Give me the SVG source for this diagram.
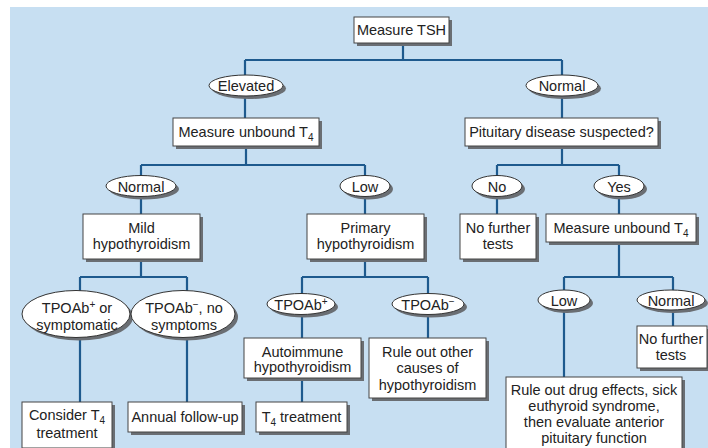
<svg xmlns="http://www.w3.org/2000/svg" width="708" height="448" viewBox="0 0 708 448">
<style>
.bg{fill:#c7dff2}
.conn{fill:none;stroke:#1e5a8e;stroke-width:2.2}
.box{fill:#fff;stroke:#444;stroke-width:1}
.sh{fill:#6a6e73}
.ell{fill:#fff;stroke:#333;stroke-width:1}
text{font-family:"Liberation Sans",Arial,sans-serif;font-size:14.5px;fill:#222;text-anchor:middle}
.s{font-size:10px}
</style>
<rect class="bg" x="10" y="7" width="698" height="441"/>
<g id="connectors">
<path class="conn" d="M403,43V60M245,60H562M245,60V118M562,60V118"/>
<path class="conn" d="M246,147V165M141,165H365M141,165V214M365,165V214"/>
<path class="conn" d="M562,147V165M497,165H619M497,165V214M619,165V214"/>
<path class="conn" d="M141,259V277M80,277H187M80,277V402M187,277V402"/>
<path class="conn" d="M365,259V277M302,277H428M302,277V402M428,277V338"/>
<path class="conn" d="M619,242V277M564,277H673M564,277V377M673,277V326"/>
</g>
<g id="n-tsh"><rect class="sh" x="357" y="20" width="95" height="26"/><rect class="box" x="354" y="17" width="95" height="26"/><text x="401.5" y="35">Measure TSH</text></g>
<g id="n-elevated"><ellipse class="sh" cx="249" cy="88.5" rx="37" ry="10.5"/><ellipse class="ell" cx="246" cy="85.5" rx="37" ry="10.5"/><text x="246" y="91">Elevated</text></g>
<g id="n-normal1"><ellipse class="sh" cx="565" cy="88.5" rx="36" ry="10.5"/><ellipse class="ell" cx="562" cy="85.5" rx="36" ry="10.5"/><text x="562" y="91">Normal</text></g>
<g id="n-mut4a"><rect class="sh" x="176" y="121" width="146" height="28"/><rect class="box" x="173" y="118" width="146" height="28"/><text x="246" y="137">Measure unbound T<tspan class="s" dy="4">4</tspan></text></g>
<g id="n-pit"><rect class="sh" x="468" y="121" width="193" height="28"/><rect class="box" x="465" y="118" width="193" height="28"/><text x="561.5" y="137">Pituitary disease suspected?</text></g>
<g id="n-normal2"><ellipse class="sh" cx="144" cy="189" rx="35" ry="10.5"/><ellipse class="ell" cx="141" cy="186" rx="35" ry="10.5"/><text x="141" y="191.5">Normal</text></g>
<g id="n-low1"><ellipse class="sh" cx="368" cy="189" rx="25" ry="10.5"/><ellipse class="ell" cx="365" cy="186" rx="25" ry="10.5"/><text x="365" y="191.5">Low</text></g>
<g id="n-no"><ellipse class="sh" cx="500" cy="189" rx="25" ry="10.5"/><ellipse class="ell" cx="497" cy="186" rx="25" ry="10.5"/><text x="497" y="191.5">No</text></g>
<g id="n-yes"><ellipse class="sh" cx="622" cy="189" rx="25" ry="10.5"/><ellipse class="ell" cx="619" cy="186" rx="25" ry="10.5"/><text x="619" y="191.5">Yes</text></g>
<g id="n-mild"><rect class="sh" x="86" y="217" width="117" height="45"/><rect class="box" x="83" y="214" width="117" height="45"/><text x="141.5" y="233">Mild</text><text x="141.5" y="249">hypothyroidism</text></g>
<g id="n-primary"><rect class="sh" x="310" y="217" width="117" height="45"/><rect class="box" x="307" y="214" width="117" height="45"/><text x="365.5" y="233">Primary</text><text x="365.5" y="249">hypothyroidism</text></g>
<g id="n-nft1"><rect class="sh" x="463" y="217" width="76" height="45"/><rect class="box" x="460" y="214" width="76" height="45"/><text x="498" y="233">No further</text><text x="498" y="249">tests</text></g>
<g id="n-mut4b"><rect class="sh" x="549" y="217" width="150" height="28"/><rect class="box" x="546" y="214" width="150" height="28"/><text x="621" y="233">Measure unbound T<tspan class="s" dy="4">4</tspan></text></g>
<g id="n-tpopos-sym"><ellipse class="sh" cx="79" cy="317" rx="54" ry="23.5"/><ellipse class="ell" cx="76" cy="314" rx="54" ry="23.5"/><text x="77" y="313">TPOAb<tspan class="s" dy="-5">+</tspan><tspan dy="5"> or</tspan></text><text x="77" y="330">symptomatic</text></g>
<g id="n-tponeg-nosym"><ellipse class="sh" cx="186" cy="317" rx="52" ry="23.5"/><ellipse class="ell" cx="183" cy="314" rx="52" ry="23.5"/><text x="184" y="313">TPOAb<tspan class="s" dy="-5">−</tspan><tspan dy="5">, no</tspan></text><text x="184" y="330">symptoms</text></g>
<g id="n-tpopos"><ellipse class="sh" cx="304" cy="307" rx="34" ry="10.5"/><ellipse class="ell" cx="301" cy="304" rx="34" ry="10.5"/><text x="301" y="309.5">TPOAb<tspan class="s" dy="-5">+</tspan></text></g>
<g id="n-tponeg"><ellipse class="sh" cx="431" cy="307" rx="36" ry="10.5"/><ellipse class="ell" cx="428" cy="304" rx="36" ry="10.5"/><text x="428" y="309.5">TPOAb<tspan class="s" dy="-5">−</tspan></text></g>
<g id="n-low2"><ellipse class="sh" cx="567" cy="303" rx="26" ry="10"/><ellipse class="ell" cx="564" cy="300" rx="26" ry="10"/><text x="564" y="305.5">Low</text></g>
<g id="n-normal3"><ellipse class="sh" cx="674" cy="303" rx="34" ry="10"/><ellipse class="ell" cx="671" cy="300" rx="34" ry="10"/><text x="671" y="305.5">Normal</text></g>
<g id="n-auto"><rect class="sh" x="247" y="341" width="117" height="40"/><rect class="box" x="244" y="338" width="117" height="40"/><text x="302.5" y="357">Autoimmune</text><text x="302.5" y="372">hypothyroidism</text></g>
<g id="n-ruleout"><rect class="sh" x="372" y="341" width="117" height="60"/><rect class="box" x="369" y="338" width="117" height="60"/><text x="427.5" y="357">Rule out other</text><text x="427.5" y="373">causes of</text><text x="427.5" y="390">hypothyroidism</text></g>
<g id="n-nft2"><rect class="sh" x="640" y="329" width="70" height="42"/><rect class="box" x="637" y="326" width="70" height="42"/><text x="671" y="344">No further</text><text x="671" y="360">tests</text></g>
<g id="n-consider"><rect class="sh" x="25" y="405" width="90" height="46"/><rect class="box" x="22" y="402" width="90" height="46"/><text x="67" y="420">Consider T<tspan class="s" dy="4">4</tspan></text><text x="67" y="438">treatment</text></g>
<g id="n-annual"><rect class="sh" x="131" y="405" width="114" height="30"/><rect class="box" x="128" y="402" width="114" height="30"/><text x="185" y="422">Annual follow-up</text></g>
<g id="n-t4tx"><rect class="sh" x="259" y="405" width="91" height="30"/><rect class="box" x="256" y="402" width="91" height="30"/><text x="301.5" y="422">T<tspan class="s" dy="4">4</tspan><tspan dy="-4"> treatment</tspan></text></g>
<g id="n-drug"><rect class="sh" x="509" y="380" width="176" height="80"/><rect class="box" x="506" y="377" width="176" height="80"/><text x="594" y="395">Rule out drug effects, sick</text><text x="594" y="411">euthyroid syndrome,</text><text x="594" y="427">then evaluate anterior</text><text x="594" y="443">pituitary function</text></g>
</svg>
